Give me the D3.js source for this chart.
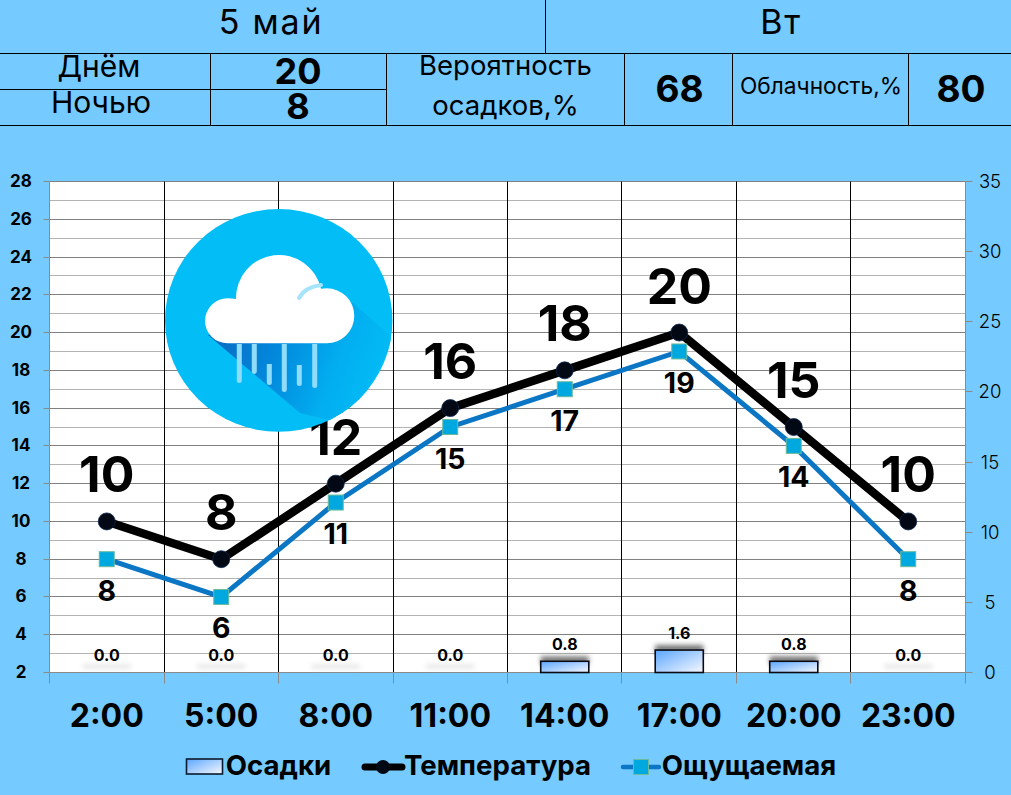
<!DOCTYPE html>
<html><head><meta charset="utf-8">
<script src="https://cdn.jsdelivr.net/npm/d3@7/dist/d3.min.js"></script>
<style>html,body{margin:0;padding:0;background:#75caff}svg{display:block}text{font-family:Inter,"Noto Sans",sans-serif}</style>
</head><body><svg id="c" width="1011" height="795"></svg>
<script>
const hours=["2:00","5:00","8:00","11:00","14:00","17:00","20:00","23:00"];
const temperature=[10,8,12,16,18,20,15,10];
const feelsLike=[8,6,11,15,17,19,14,8];
const precipitation=[0,0,0,0,0.8,1.6,0.8,0];
const leftTicks=[2,4,6,8,10,12,14,16,18,20,22,24,26,28];
const minorTicks=[3,5,7,9,11,13,15,17,19,21,23,25,27];
const rightTicks=[0,5,10,15,20,25,30,35];
const legendNames=["Осадки","Температура","Ощущаемая"];

const svg=d3.select("#c");
const L=49.5,R=965.5,T=181.5,B=672.5;
const x=d3.scaleBand().domain(hours).range([L,R]).paddingInner(0.58).paddingOuter(0.29);
const xc=d=>x(d)+x.bandwidth()/2;
const y=d3.scaleLinear().domain([2,28]).range([B,T]);
const y2=d3.scaleLinear().domain([0,35]).range([B,T]);
const snap=v=>Math.floor(v)+0.5;
const bandStep=x.step();
const font=(s,w,fs)=>s.attr("font-size",fs).attr("font-weight",w).attr("fill","#000").attr("text-anchor","middle");

const defs=svg.append("defs");
const g=defs.append("linearGradient").attr("id","barG").attr("x1","0").attr("y1","0").attr("x2","1").attr("y2","1");
g.append("stop").attr("offset","0").attr("stop-color","#5aa6ff");
g.append("stop").attr("offset","1").attr("stop-color","#f8f9ff");
const sh=defs.append("filter").attr("id","blur").attr("x","-30%").attr("y","-150%").attr("width","160%").attr("height","400%");
sh.append("feGaussianBlur").attr("stdDeviation","2.8");
const sg=defs.append("linearGradient").attr("id","shade").attr("gradientUnits","userSpaceOnUse").attr("x1",215).attr("y1",340).attr("x2",380).attr("y2",400);
sg.append("stop").attr("offset","0").attr("stop-color","#0a6cc4");
sg.append("stop").attr("offset","0.35").attr("stop-color","#0288dc");
sg.append("stop").attr("offset","0.7").attr("stop-color","#02aef0");
sg.append("stop").attr("offset","1").attr("stop-color","#02bdf6");

// header table
const ln=(x1,y1,x2,y2,c="#000",w=1)=>svg.append("line").attr("x1",x1).attr("y1",y1).attr("x2",x2).attr("y2",y2).attr("stroke",c).attr("stroke-width",w);
ln(0,53.5,1011,53.5);ln(0,125.5,1011,125.5);ln(0,89.5,386,89.5);
ln(545.5,0,545.5,53);
[210.5,386.5,624.5,732.5,908.5].forEach(v=>ln(v,53,v,125));
const hdr=[
 ["5 май",271,33.5,34,400,1.8],["Вт",781,33.5,34,400,1.8],
 ["Днём",99,77,30,400,0],["Ночью",101,113,30,400,0],
 ["20",298,83.5,36,700,0],["8",298,119,36,700,0],
 ["Вероятность",505.5,75,27.5,400,0],["осадков,%",505.5,115,27.5,400,0],
 ["68",679.5,102,37,700,0],["Облачность,%",821,94,22.7,400,0],["80",961,102,37,700,0]];
hdr.forEach(h=>font(svg.append("text").text(h[0]).attr("x",h[1]).attr("y",h[2]),h[4],h[3]).attr("letter-spacing",h[5]));

// plot area
svg.append("rect").attr("x",L).attr("y",T).attr("width",R-L).attr("height",B-T).attr("fill","#fff");
svg.append("g").selectAll("line").data(minorTicks).join("line")
 .attr("x1",L).attr("x2",R).attr("y1",d=>snap(y(d))).attr("y2",d=>snap(y(d))).attr("stroke","#b4b4b4");
svg.append("g").selectAll("line").data(leftTicks).join("line")
 .attr("x1",L).attr("x2",R).attr("y1",d=>snap(y(d))).attr("y2",d=>snap(y(d))).attr("stroke","#808080");
const seps=hours.slice(1).map(h=>snap(xc(h)-bandStep/2));
svg.append("g").selectAll("line").data(seps).join("line")
 .attr("x1",d=>d).attr("x2",d=>d).attr("y1",T).attr("y2",B).attr("stroke","#000");

// axes
const ax=svg.append("g").attr("stroke","#8a8a8a");
ax.append("line").attr("x1",L).attr("x2",L).attr("y1",T).attr("y2",B);
ax.append("line").attr("x1",R).attr("x2",R).attr("y1",T).attr("y2",B);
ax.append("line").attr("x1",L).attr("x2",R).attr("y1",B).attr("y2",B);
ax.selectAll(".tl").data(leftTicks).join("line").attr("class","tl").attr("x1",L-6).attr("x2",L).attr("y1",d=>snap(y(d))).attr("y2",d=>snap(y(d)));
ax.selectAll(".tr").data(rightTicks).join("line").attr("class","tr").attr("x1",R).attr("x2",R+7).attr("y1",d=>snap(y2(d))).attr("y2",d=>snap(y2(d)));
ax.selectAll(".tb").data([...seps,L,R]).join("line").attr("class","tb").attr("x1",d=>d).attr("x2",d=>d).attr("y1",B).attr("y2",B+11);
leftTicks.forEach(d=>font(svg.append("text").text(d).attr("x",21).attr("y",y(d)+5.5),700,17));
rightTicks.forEach(d=>font(svg.append("text").text(d).attr("x",990).attr("y",y2(d)+6.5),300,18.5));
hours.forEach(h=>font(svg.append("text").text(h).attr("x",xc(h)).attr("y",727),700,32));

// bars
const bars=svg.append("g");
bars.selectAll(".sh").data(hours).join("rect").attr("class","sh")
 .attr("x",d=>x(d)).attr("width",x.bandwidth())
 .attr("y",(d,i)=>precipitation[i]?y2(precipitation[i])-5:B-8).attr("height",(d,i)=>precipitation[i]?8:4)
 .attr("fill",(d,i)=>precipitation[i]?"#222":"#bbb").attr("opacity",(d,i)=>precipitation[i]?.62:.4).attr("filter","url(#blur)");
bars.selectAll(".b").data(hours.filter((d,i)=>precipitation[i]>0)).join("rect").attr("class","b")
 .attr("x",d=>x(d)).attr("width",x.bandwidth())
 .attr("y",d=>y2(precipitation[hours.indexOf(d)])).attr("height",d=>B-y2(precipitation[hours.indexOf(d)]))
 .attr("fill","url(#barG)").attr("stroke","#0a0a14").attr("stroke-width",1.6);
hours.forEach((h,i)=>font(svg.append("text").text(precipitation[i].toFixed(1)).attr("x",xc(h)).attr("y",y2(precipitation[i])-11.5),700,16));

// lines
const line=vals=>d3.line().x((d,i)=>xc(hours[i])).y(d=>y(d))(vals);
svg.append("path").attr("d",line(feelsLike)).attr("fill","none").attr("stroke","#0b76c4").attr("stroke-width",5);
svg.append("path").attr("d",line(temperature)).attr("fill","none").attr("stroke","#000").attr("stroke-width",8.5);
svg.append("g").selectAll("circle").data(temperature).join("circle")
 .attr("cx",(d,i)=>xc(hours[i])).attr("cy",d=>y(d)).attr("r",8.5).attr("fill","#020814").attr("stroke","#0b2a50").attr("stroke-width",.8);
svg.append("g").selectAll("rect").data(feelsLike).join("rect")
 .attr("x",(d,i)=>xc(hours[i])-7.5).attr("y",d=>y(d)-7.5).attr("width",15).attr("height",15)
 .attr("fill","#00a8e0").attr("stroke","#6dbb9a");
temperature.forEach((v,i)=>font(svg.append("text").text(v).attr("x",xc(hours[i])).attr("y",y(v)-29),700,50));
feelsLike.forEach((v,i)=>font(svg.append("text").text(v).attr("x",xc(hours[i])).attr("y",y(v)+41.5),700,28.5));

// weather icon (decoration, absolute pixels)
const ic=svg.append("g");
ic.append("ellipse").attr("cx",278.7).attr("cy",320.4).attr("rx",113.7).attr("ry",111.4).attr("fill","#02bdf6");
defs.append("clipPath").attr("id","cc").append("ellipse").attr("cx",278.7).attr("cy",320.4).attr("rx",113.7).attr("ry",111.4);
ic.append("path").attr("clip-path","url(#cc)").attr("d","M208,335 L300,413 L350,425 L394,339 L353,303 Z").attr("fill","url(#shade)");
ic.append("path").attr("fill","#fff").attr("d","M227.5,343.3 A22.5,22.5 0 0 1 227.5,298.3 Q232,298.3 236,299 A43,43 0 0 1 321,288.8 Q324,288.3 326.8,288.3 A27.5,27.5 0 0 1 326.8,343.3 Z");
ic.append("path").attr("d","M299,298 Q305,287 321,285").attr("fill","none").attr("stroke","#a5e4fb").attr("stroke-width",4).attr("stroke-linecap","round");
[[239.3,344,383],[254.3,344,374],[269.3,364,385],[284.3,344,392],[299.3,365,386],[314.7,344,388]].forEach(r=>{
 ic.append("path").attr("d",`M${r[0]-2.5},${r[1]} H${r[0]+2.5} V${r[2]-2.5} A2.5,2.5 0 0 1 ${r[0]-2.5},${r[2]-2.5} Z`).attr("fill","#8fdcfb");
});

// legend
const ly=767;
svg.append("rect").attr("x",186.5).attr("y",759).attr("width",36).attr("height",15).attr("fill","url(#barG)").attr("stroke","#0a1a30").attr("stroke-width",1.6);
font(svg.append("text").text(legendNames[0]).attr("x",278.5).attr("y",ly+8),700,27.6);
ln(365,ly,402,ly,"#000",7).attr("stroke-linecap","round");
svg.append("circle").attr("cx",383).attr("cy",ly).attr("r",7).attr("fill","#020814");
font(svg.append("text").text(legendNames[1]).attr("x",497.5).attr("y",ly+8),700,27.6);
ln(623,ly,659,ly,"#0b76c4",4.5).attr("stroke-linecap","round");
svg.append("rect").attr("x",633.5).attr("y",759.5).attr("width",15).attr("height",15).attr("fill","#00a8e0").attr("stroke","#6dbb9a");
font(svg.append("text").text(legendNames[2]).attr("x",749).attr("y",ly+8),700,27.6);
</script></body></html>
